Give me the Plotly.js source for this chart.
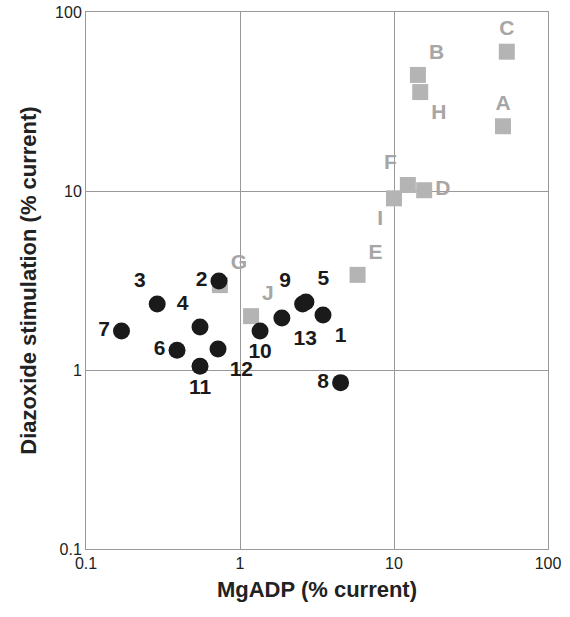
<!DOCTYPE html>
<html>
<head>
<script src="https://cdn.plot.ly/plotly-3.0.1.min.js"></script>
<style>body{margin:0}#chart{width:570px;height:617px}</style>
</head>
<body>
<div id="chart"></div>
<script>
// black circles
var blackLabels = ['1','2','3','4','5','6','7','8','9','10','11','12','13'];
var blackX = [3.46, 0.73, 0.29, 0.55, 2.68, 0.39, 0.17, 4.5, 2.55, 1.35, 0.55, 0.72, 1.87];
var blackY = [2.03, 3.14, 2.34, 1.74, 2.4, 1.29, 1.65, 0.85, 2.34, 1.65, 1.05, 1.31, 1.95];
var blackPos = ['bottom right','middle left','top left','top left','top right','middle left','middle left',
                'middle left','top left','bottom center','bottom center','bottom right','bottom right'];

// gray squares
var grayLabels = ['A','B','C','D','E','F','G','H','I','J'];
var grayX = [51, 14.3, 54, 15.7, 5.8, 12.3, 0.74, 14.8, 10, 1.18];
var grayY = [23, 44.5, 60, 10.1, 3.4, 10.8, 2.98, 35.7, 9.1, 2.0];
var grayPos = ['top center','top right','top center','middle right','top right','top left',
               'top right','bottom right','bottom left','top right'];

var font = 'Liberation Sans, Arial, sans-serif';
var data = [
  {x: grayX, y: grayY, text: grayLabels, textposition: grayPos, mode: 'markers+text', type: 'scatter',
   marker: {symbol: 'square', size: 16, color: '#b4b4b4'},
   textfont: {family: font, size: 21, color: '#a6a6a6', weight: 'bold'}, cliponaxis: false},
  {x: blackX, y: blackY, text: blackLabels, textposition: blackPos, mode: 'markers+text', type: 'scatter',
   marker: {symbol: 'circle', size: 17, color: '#1a1a1a'},
   textfont: {family: font, size: 21, color: '#1a1a1a', weight: 'bold'}, cliponaxis: false}
];

var layout = {
  width: 570, height: 617,
  margin: {l: 86, r: 22, t: 12, b: 68},
  showlegend: false,
  paper_bgcolor: 'white', plot_bgcolor: 'white',
  font: {family: font, color: '#222'},
  xaxis: {type: 'log', range: [-1, 2], tickvals: [0.1, 1, 10, 100], ticktext: ['0.1','1','10','100'],
          showgrid: true, gridcolor: '#999', gridwidth: 1, showline: true, linecolor: '#999', mirror: true,
          zeroline: false, ticks: '', tickfont: {size: 16},
          title: {text: 'MgADP (% current)', font: {size: 22, weight: 'bold'}, standoff: 10}},
  yaxis: {type: 'log', range: [-1, 2], tickvals: [0.1, 1, 10, 100], ticktext: ['0.1','1','10','100'],
          showgrid: true, gridcolor: '#999', gridwidth: 1, showline: true, linecolor: '#999', mirror: true,
          zeroline: false, ticks: '', tickfont: {size: 16},
          title: {text: 'Diazoxide stimulation (% current)', font: {size: 22, weight: 'bold'}, standoff: 12}}
};

Plotly.newPlot('chart', data, layout, {displayModeBar: false});
</script>
</body>
</html>
